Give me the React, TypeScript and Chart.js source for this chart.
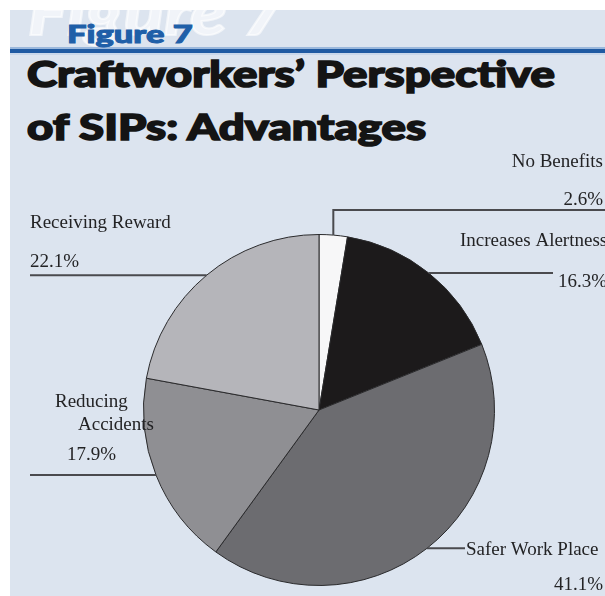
import React, { useEffect, useRef } from "react";
import { Chart, registerables } from "chart.js";

Chart.register(...registerables);

const categories = ["No Benefits", "Increases Alertness", "Safer Work Place", "Reducing Accidents", "Receiving Reward"];
const values = [2.6, 16.3, 41.1, 17.9, 22.1];
const valueLabels = ["2.6%", "16.3%", "41.1%", "17.9%", "22.1%"];
const sliceColors = ["#f7f7f8", "#1c1a1b", "#6c6c70", "#8f8f93", "#b5b5ba"];

// label layout (canvas coordinates): name lines, value position, leader line target
type LabelCfg = {
  nameLines: string[];
  nameX: number[];
  nameY: number[];
  nameAlign: CanvasTextAlign;
  valX: number;
  valY: number;
  valAlign: CanvasTextAlign;
  lineToX: number;
  elbowY?: number;
};

const labelLayout: LabelCfg[] = [
  { nameLines: ["No Benefits"], nameX: [593], nameY: [157], nameAlign: "right", valX: 593, valY: 195, valAlign: "right", lineToX: 596, elbowY: 200 },
  { nameLines: ["Increases Alertness"], nameX: [450], nameY: [236], nameAlign: "left", valX: 548, valY: 277, valAlign: "left", lineToX: 543 },
  { nameLines: ["Safer Work Place"], nameX: [456], nameY: [545], nameAlign: "left", valX: 593, valY: 580, valAlign: "right", lineToX: 455 },
  { nameLines: ["Reducing", "Accidents"], nameX: [45, 68], nameY: [397, 420], nameAlign: "left", valX: 57, valY: 450, valAlign: "left", lineToX: 20 },
  { nameLines: ["Receiving Reward"], nameX: [20], nameY: [218], nameAlign: "left", valX: 20, valY: 257, valAlign: "left", lineToX: 20 },
];

const leaderPlugin = {
  id: "leaders",
  afterDatasetsDraw(chart: any) {
    const ctx: CanvasRenderingContext2D = chart.ctx;
    const meta = chart.getDatasetMeta(0);
    ctx.save();
    meta.data.forEach((arc: any, i: number) => {
      const p = arc.getProps(["x", "y", "startAngle", "endAngle", "outerRadius"], true);
      const mid = (p.startAngle + p.endAngle) / 2;
      const ax = p.x + Math.cos(mid) * p.outerRadius;
      const ay = p.y + Math.sin(mid) * p.outerRadius;
      const cfg = labelLayout[i];
      ctx.strokeStyle = "#4a4a4e";
      ctx.lineWidth = 2;
      ctx.beginPath();
      if (cfg.elbowY !== undefined) {
        ctx.moveTo(ax, ay);
        ctx.lineTo(ax, cfg.elbowY);
        ctx.lineTo(cfg.lineToX, cfg.elbowY);
      } else {
        ctx.moveTo(ax, ay);
        ctx.lineTo(cfg.lineToX, ay);
      }
      ctx.stroke();
      ctx.fillStyle = "#232325";
      ctx.font = "19px 'Liberation Serif', 'Times New Roman', serif";
      ctx.textBaseline = "alphabetic";
      ctx.textAlign = cfg.nameAlign;
      cfg.nameLines.forEach((t, k) => ctx.fillText(t, cfg.nameX[k], cfg.nameY[k]));
      ctx.textAlign = cfg.valAlign;
      ctx.fillText(valueLabels[i], cfg.valX, cfg.valY);
    });
    ctx.restore();
  },
};

const heavy: React.CSSProperties = {
  position: "absolute",
  fontFamily: "Lato, 'Open Sans', sans-serif",
  fontWeight: 900,
  whiteSpace: "nowrap",
  transformOrigin: "left top",
};

export default function App() {
  const ref = useRef<HTMLCanvasElement | null>(null);
  useEffect(() => {
    document.body.style.margin = "0";
    if (!ref.current) return;
    const chart = new Chart(ref.current, {
      type: "pie",
      data: {
        labels: categories,
        datasets: [
          {
            data: values,
            backgroundColor: sliceColors,
            borderColor: "#2a2a2c",
            borderWidth: 1,
          },
        ],
      },
      options: {
        responsive: false,
        animation: false,
        layout: { padding: { left: 133, right: 110, top: 224, bottom: 10 } },
        plugins: { legend: { display: false }, tooltip: { enabled: false } },
      },
      plugins: [leaderPlugin],
    });
    return () => chart.destroy();
  }, []);

  return (
    <div style={{ position: "fixed", left: 0, top: 0, width: 605, height: 596, background: "#ffffff", overflow: "hidden" }}>
      <div style={{ position: "absolute", left: 10, top: 10, width: 595, height: 586, background: "#dce4ef", overflow: "hidden" }}>
        <div style={{ ...heavy, left: 18, top: -30, fontStyle: "italic", fontSize: 62, lineHeight: "62px", color: "rgba(255,255,255,0.6)", transform: "scaleX(1.2)", WebkitTextStroke: "2px rgba(255,255,255,0.6)" }}>
          Figure 7
        </div>
        <div style={{ position: "absolute", left: 0, top: 37, width: 595, height: 2, background: "#9bb8dc" }} />
        <div style={{ position: "absolute", left: 0, top: 39, width: 595, height: 4, background: "#1f5aa2" }} />
        <div style={{ position: "absolute", left: 0, top: 43, width: 595, height: 2, background: "#c9d7ea" }} />
        <div style={{ ...heavy, left: 57, top: 11, fontSize: 25, lineHeight: "25px", color: "#1f5fa8", transform: "scaleX(1.38)", WebkitTextStroke: "1px #1f5fa8" }}>
          Figure 7
        </div>
        <div style={{ ...heavy, left: 17, top: 45, fontSize: 36, lineHeight: "36px", color: "#141414", transform: "scaleX(1.265)", WebkitTextStroke: "1.6px #141414" }}>
          Craftworkers’ Perspective
        </div>
        <div style={{ ...heavy, left: 17, top: 98, fontSize: 36, lineHeight: "36px", color: "#141414", transform: "scaleX(1.265)", WebkitTextStroke: "1.6px #141414" }}>
          of SIPs: Advantages
        </div>
        <canvas ref={ref} width={595} height={586} style={{ position: "absolute", left: 0, top: 0, width: 595, height: 586 }} />
      </div>
    </div>
  );
}
